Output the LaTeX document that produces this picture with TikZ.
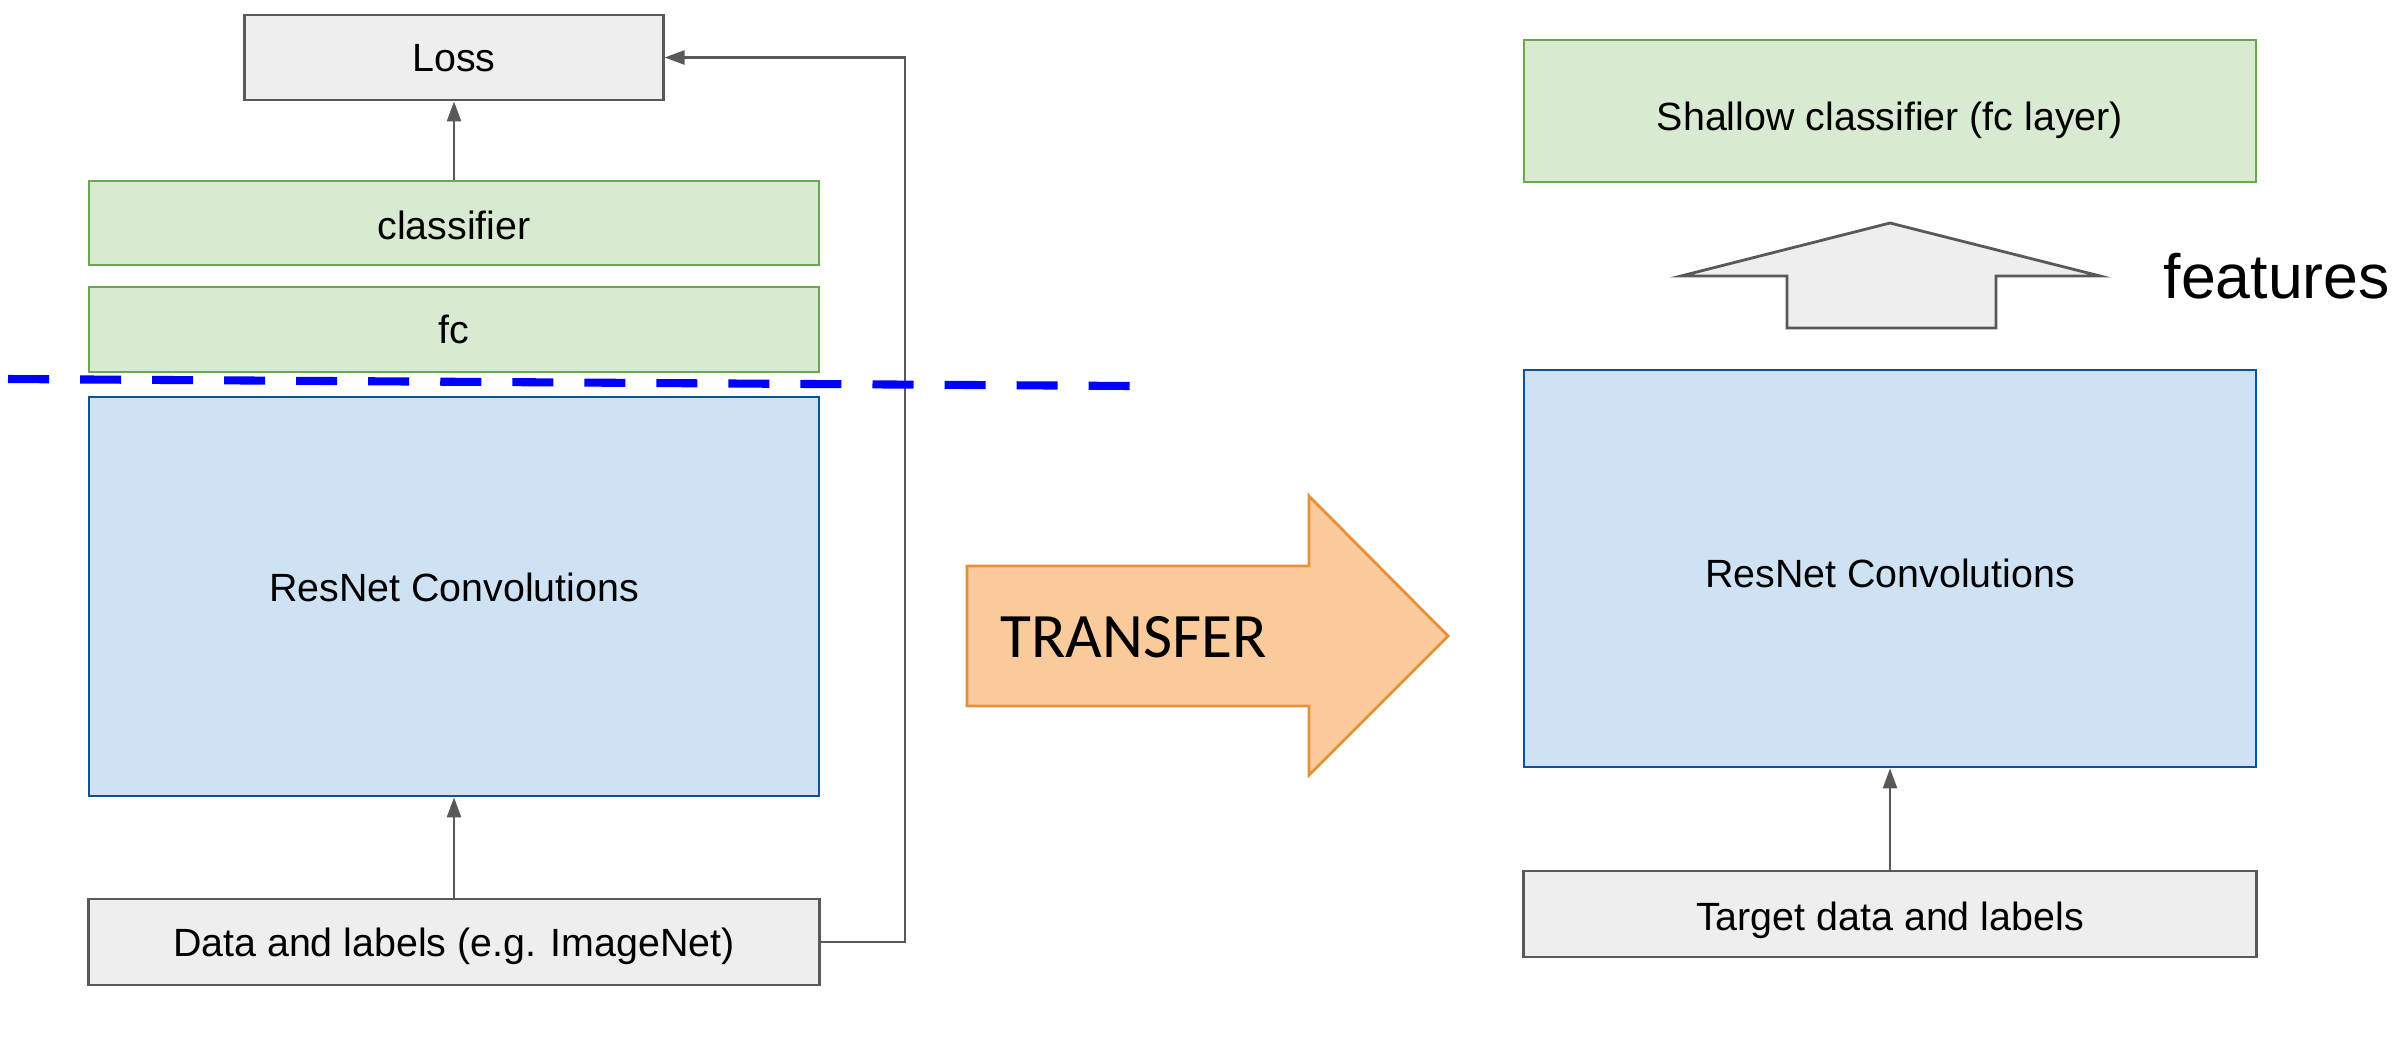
\documentclass[tikz,border=0pt]{standalone}
\usepackage{fontspec}
\setmainfont{Liberation Sans}
\newfontfamily\transfont{Carlito}
\usetikzlibrary{arrows.meta}
\definecolor{grayfill}{HTML}{EEEEEE}
\definecolor{grayline}{HTML}{595959}
\definecolor{greenfill}{HTML}{D9EAD3}
\definecolor{greenline}{HTML}{6AA84F}
\definecolor{bluefill}{HTML}{CFE2F3}
\definecolor{blueline}{HTML}{0B5394}
\definecolor{orangefill}{HTML}{F9CB9C}
\definecolor{orangeline}{HTML}{E69138}
\definecolor{cutblue}{HTML}{0000FF}
\tikzset{
  box/.style={rectangle, inner sep=0pt},
  graybox/.style={box, draw=grayline, fill=grayfill, line width=0.8pt},
  greenbox/.style={box, draw=greenline, fill=greenfill, line width=0.7pt},
  bluebox/.style={box, draw=blueline, fill=bluefill, line width=0.7pt},
  lbl/.style={anchor=base, inner sep=0pt, font=\fontsize{11.2pt}{13pt}\selectfont, text=black},
  conn/.style={draw=grayline, line width=0.7pt, -{Triangle[length=0.2cm,width=0.14cm]}},
  bigarrow/.style={draw=grayline, fill=grayfill, line width=0.8pt, line join=miter},
}
\begin{document}
\begin{tikzpicture}[x=0.01cm, y=-0.01cm]
\useasboundingbox (0,0) rectangle (2406,1036);
% left column
\node[graybox, minimum width=4.18cm, minimum height=0.85cm] (loss) at (454,57.5) {};
\node[greenbox, minimum width=7.30cm, minimum height=0.84cm] (clf) at (454,223) {};
\node[greenbox, minimum width=7.30cm, minimum height=0.85cm] (fc) at (454,329.5) {};
\node[bluebox, minimum width=7.30cm, minimum height=3.99cm] (resL) at (454,596.5) {};
\node[graybox, minimum width=7.30cm, minimum height=0.86cm] (data) at (454,942) {};
\node[lbl] (lossT) at (454,71) {Loss};
\node[lbl] (clfT) at (454,239) {classifier};
\node[lbl] (fcT) at (454,343) {fc};
\node[lbl] (resLT) at (454,601) {ResNet Convolutions};
\node[lbl] (dataT) at (454,956) {Data and labels (e.g. ImageNet)};
\draw[conn] (clf.north) -- (loss.south);
\draw[conn] (data.north) -- (resL.south);
\coordinate (fbturn) at (905,942);
\draw[conn] (data.east) -- (fbturn) |- (loss.east);
% cut line
\coordinate (cutL) at (8,379);
\coordinate (cutR) at (1132,386);
\draw[cutblue, line width=2.3pt, dash pattern=on 0.41cm off 0.31cm] (cutL) -- (cutR);
% transfer arrow
\draw[draw=orangeline, fill=orangefill, line width=0.8pt, line join=miter]
  (967,566) -- (1309,566) -- (1309,496) -- (1448,636) -- (1309,775) -- (1309,706) -- (967,706) -- cycle;
\node[anchor=base west, inner sep=0pt, font=\transfont\fontsize{18pt}{20pt}\selectfont] (transfer) at (1000,657) {TRANSFER};
% right column
\node[greenbox, minimum width=7.32cm, minimum height=1.42cm] (shallow) at (1890,111) {};
\node[bluebox, minimum width=7.32cm, minimum height=3.97cm] (resR) at (1890,568.5) {};
\node[graybox, minimum width=7.32cm, minimum height=0.86cm] (target) at (1890,914) {};
\node[lbl] (shallowT) at (1890,130) {Shallow classifier (fc layer)};
\node[lbl] (resRT) at (1890,587) {ResNet Convolutions};
\node[lbl] (targetT) at (1890,930) {Target data and labels};
\draw[conn] (target.north) -- (resR.south);
\draw[bigarrow] (1787,328) -- (1787,276) -- (1681,276) -- (1890,223) -- (2100,276) -- (1996,276) -- (1996,328) -- cycle;
\node[anchor=base west, inner sep=0pt, font=\fontsize{17.8pt}{20pt}\selectfont] (features) at (2163,298) {features};
\end{tikzpicture}
\end{document}
